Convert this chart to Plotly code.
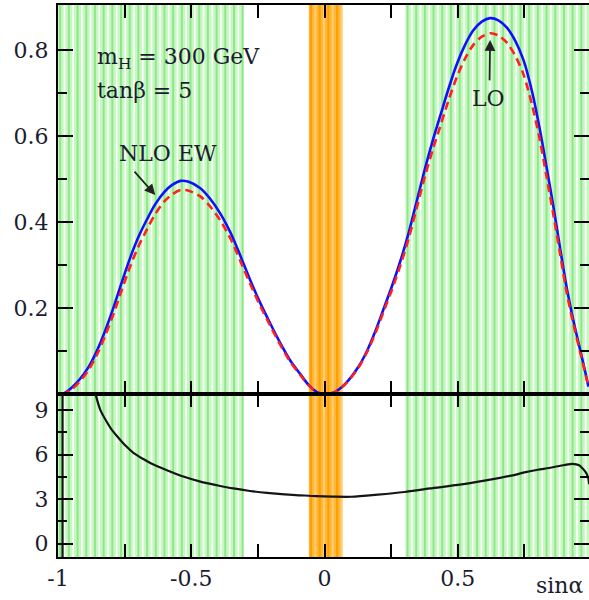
import plotly.graph_objects as go

# ---------------- data ----------------
sin_alpha = [-0.985, -0.973, -0.95, -0.92, -0.885, -0.855, -0.823, -0.79, -0.76, -0.73,
             -0.698, -0.665, -0.635, -0.6, -0.573, -0.54, -0.51, -0.466, -0.43, -0.391,
             -0.35, -0.316, -0.28, -0.241, -0.2, -0.166, -0.13, -0.091, -0.06, -0.03,
             0.0, 0.04, 0.08, 0.127, 0.16, 0.19, 0.22, 0.252, 0.285, 0.315,
             0.345, 0.377, 0.405, 0.433, 0.465, 0.496, 0.527, 0.558, 0.59, 0.621,
             0.652, 0.684, 0.715, 0.746, 0.777, 0.808, 0.833, 0.858, 0.884, 0.909,
             0.934, 0.959, 0.975, 0.99]

nlo_ew = [0.0, 0.004, 0.015, 0.034, 0.064, 0.100, 0.148, 0.205, 0.262, 0.316,
          0.366, 0.408, 0.442, 0.471, 0.486, 0.496, 0.494, 0.479, 0.455, 0.420,
          0.372, 0.322, 0.267, 0.212, 0.160, 0.119, 0.080, 0.047, 0.022, 0.006,
          0.0, 0.006, 0.026, 0.064, 0.102, 0.146, 0.196, 0.250, 0.311, 0.374,
          0.447, 0.525, 0.588, 0.645, 0.710, 0.767, 0.812, 0.846, 0.866, 0.874,
          0.869, 0.852, 0.822, 0.777, 0.707, 0.614, 0.527, 0.438, 0.338, 0.246,
          0.170, 0.103, 0.060, 0.018]

lo = [0.0, 0.003, 0.011, 0.029, 0.057, 0.091, 0.136, 0.190, 0.244, 0.296,
      0.344, 0.385, 0.419, 0.449, 0.464, 0.475, 0.473, 0.460, 0.437, 0.404,
      0.358, 0.310, 0.258, 0.205, 0.155, 0.115, 0.077, 0.045, 0.021, 0.006,
      0.0, 0.006, 0.025, 0.062, 0.099, 0.141, 0.190, 0.242, 0.301, 0.361,
      0.432, 0.508, 0.567, 0.621, 0.683, 0.737, 0.780, 0.812, 0.831, 0.839,
      0.834, 0.817, 0.787, 0.744, 0.676, 0.590, 0.505, 0.419, 0.324, 0.234,
      0.162, 0.098, 0.057, 0.017]

# relative NLO correction (lower panel); the curve diverges where LO vanishes
ratio_x = [-0.87, -0.859, -0.841, -0.82, -0.8, -0.779, -0.75, -0.717, -0.68, -0.65,
           -0.591, -0.53, -0.466, -0.4, -0.342, -0.28, -0.216, -0.15, -0.091, -0.03,
           0.03, 0.1, 0.2, 0.3, 0.395, 0.5, 0.6, 0.7, 0.75, 0.8,
           0.842, 0.9, 0.931, 0.955, 0.969, 0.98, 0.988, 0.993]
ratio_y = [10.9, 10.06, 9.0, 8.3, 7.72, 7.25, 6.66, 6.12, 5.7, 5.4,
           4.95, 4.52, 4.18, 3.92, 3.72, 3.55, 3.42, 3.32, 3.26, 3.2,
           3.17, 3.16, 3.3, 3.48, 3.72, 3.96, 4.25, 4.58, 4.8, 4.98,
           5.1, 5.3, 5.38, 5.28, 5.05, 4.8, 4.5, 4.0]
pole_x = [-0.983, -0.983]
pole_y = [-3.0, 30.0]

green_bands = [(-1.0, -0.305), (0.303, 1.0)]
orange_band = (-0.059, 0.067)

x_tickvals = [-1, -0.5, 0, 0.5]
x_ticktext = ["-1", "-0.5", "0", "0.5"]
top_tickvals = [0.2, 0.4, 0.6, 0.8]
top_ticktext = ["0.2", "0.4", "0.6", "0.8"]
bot_tickvals = [0, 3, 6, 9]
bot_ticktext = ["0", "3", "6", "9"]

# ---------------- style ----------------
FONT = "DejaVu Serif"
TXT = "#1c1c30"
tickfont = dict(family=FONT, size=22, color=TXT)

fig = go.Figure()

fig.add_trace(go.Scatter(x=sin_alpha, y=nlo_ew, mode="lines", xaxis="x", yaxis="y",
                         line=dict(color="#1010ff", width=2.6, shape="spline", smoothing=0.8),
                         name="NLO EW"))
fig.add_trace(go.Scatter(x=sin_alpha, y=lo, mode="lines", xaxis="x", yaxis="y",
                         line=dict(color="#ff2020", width=2.6, dash="8px,5px",
                                   shape="spline", smoothing=0.8), name="LO"))
fig.add_trace(go.Scatter(x=ratio_x, y=ratio_y, mode="lines", xaxis="x2", yaxis="y2",
                         line=dict(color="#151515", width=2.2, shape="spline", smoothing=0.8),
                         name="ratio"))
fig.add_trace(go.Scatter(x=pole_x, y=pole_y, mode="lines", xaxis="x2", yaxis="y2",
                         line=dict(color="#151515", width=2.2), name="pole"))
# empty traces to make the right-side tick axes exist
fig.add_trace(go.Scatter(x=[], y=[], xaxis="x", yaxis="y3", showlegend=False))
fig.add_trace(go.Scatter(x=[], y=[], xaxis="x2", yaxis="y4", showlegend=False))

# ---------------- stripes ----------------
shapes = []
period = 0.0326


def add_band(x0, x1, bg, c1, c2, w1, w2):
    shapes.append(dict(type="rect", xref="x", yref="paper", x0=x0, x1=x1, y0=0, y1=1,
                       fillcolor=bg, line=dict(width=0), layer="below"))
    k = 0
    while True:
        xa = x0 + period * (k + 0.25)
        xb = x0 + period * (k + 0.75)
        if xa < x1:
            shapes.append(dict(type="line", xref="x", yref="paper", x0=xa, x1=xa, y0=0, y1=1,
                               line=dict(color=c1, width=w1), layer="below"))
        if xb < x1:
            shapes.append(dict(type="line", xref="x", yref="paper", x0=xb, x1=xb, y0=0, y1=1,
                               line=dict(color=c2, width=w2), layer="below"))
        if xa >= x1:
            break
        k += 1


for b in green_bands:
    add_band(b[0], b[1], "#c8f8c2", "#8ee88a", "#ffffff", 2.0, 1.6)
add_band(orange_band[0], orange_band[1], "#ffb83a", "#ffa000", "#ffcf78", 2.2, 1.8)

# ---------------- axes ----------------
BOUND = 0.2946
xcommon = dict(range=[-1, 0.992], showline=True, linecolor="black", linewidth=1.8,
               mirror="allticks", ticks="inside", ticklen=13, tickwidth=1.6, tickcolor="black",
               tickvals=x_tickvals, ticktext=x_ticktext, showgrid=False, zeroline=False,
               minor=dict(ticks="inside", ticklen=7, tickwidth=1.6, tickcolor="black",
                          tickvals=[-0.75, -0.25, 0.25, 0.75], showgrid=False))

ycommon = dict(showline=True, linecolor="black", linewidth=2,
               ticks="inside", ticklen=15, tickwidth=1.6, tickcolor="black",
               tickfont=tickfont, showgrid=False, zeroline=False, ticklabelstandoff=3)

fig.update_layout(
    width=589, height=600,
    margin=dict(l=58, r=0, t=5, b=43),
    paper_bgcolor="white", plot_bgcolor="rgba(0,0,0,0)",
    showlegend=False,
    shapes=shapes,
    xaxis=dict(domain=[0, 1], anchor="y", showticklabels=False, **xcommon),
    xaxis2=dict(domain=[0, 1], anchor="y2", matches="x", showticklabels=True,
                tickfont=tickfont, ticklabelstandoff=1, **xcommon),
    yaxis=dict(domain=[BOUND, 1], anchor="x", range=[0, 0.9046],
               tickvals=top_tickvals, ticktext=top_ticktext,
               minor=dict(ticks="inside", ticklen=9, tickwidth=1.6, tickcolor="black",
                          tickvals=[0.1, 0.3, 0.5, 0.7], showgrid=False), **ycommon),
    yaxis2=dict(domain=[0, BOUND], anchor="x2", range=[-0.9, 10.06],
                tickvals=bot_tickvals, ticktext=bot_ticktext,
                minor=dict(ticks="inside", ticklen=9, tickwidth=1.6, tickcolor="black",
                           tickvals=[1.5, 4.5, 7.5], showgrid=False), **ycommon),
    yaxis3=dict(overlaying="y", side="right", anchor="x", matches="y",
                showline=False, showticklabels=False, showgrid=False, zeroline=False,
                ticks="inside", ticklen=15, tickwidth=1.6, tickcolor="black",
                tickvals=top_tickvals,
                minor=dict(ticks="inside", ticklen=9, tickwidth=1.6, tickcolor="black",
                           tickvals=[0.1, 0.3, 0.5, 0.7], showgrid=False)),
    yaxis4=dict(overlaying="y2", side="right", anchor="x2", matches="y2",
                showline=False, showticklabels=False, showgrid=False, zeroline=False,
                ticks="inside", ticklen=15, tickwidth=1.6, tickcolor="black",
                tickvals=bot_tickvals,
                minor=dict(ticks="inside", ticklen=9, tickwidth=1.6, tickcolor="black",
                           tickvals=[1.5, 4.5, 7.5], showgrid=False)),
)

afont = dict(family=FONT, size=22, color=TXT)
ann = [
    dict(x=-0.862, y=0.781, xref="x", yref="y", text="m<sub>H</sub> = 300 GeV",
         showarrow=False, xanchor="left", yanchor="middle", font=afont),
    dict(x=-0.862, y=0.707, xref="x", yref="y", text="tanβ = 5",
         showarrow=False, xanchor="left", yanchor="middle", font=afont),
    dict(x=-0.588, y=0.560, xref="x", yref="y", text="NLO EW",
         showarrow=False, xanchor="center", yanchor="middle", font=afont),
    dict(x=0.615, y=0.688, xref="x", yref="y", text="LO",
         showarrow=False, xanchor="center", yanchor="middle", font=afont),
    dict(x=-0.635, y=0.463, ax=-0.718, ay=0.521, xref="x", yref="y", axref="x", ayref="y",
         text="", showarrow=True, arrowhead=2, arrowsize=1.2, arrowwidth=1.8,
         arrowcolor="#222222"),
    dict(x=0.621, y=0.823, ax=0.619, ay=0.726, xref="x", yref="y", axref="x", ayref="y",
         text="", showarrow=True, arrowhead=2, arrowsize=1.2, arrowwidth=1.8,
         arrowcolor="#222222"),
    dict(x=1.0, y=-0.052, xref="paper", yref="paper", text="sinα", xshift=-4,
         showarrow=False, xanchor="right", yanchor="middle", font=afont),
]
fig.update_layout(annotations=ann)

fig.write_html("out.html")
